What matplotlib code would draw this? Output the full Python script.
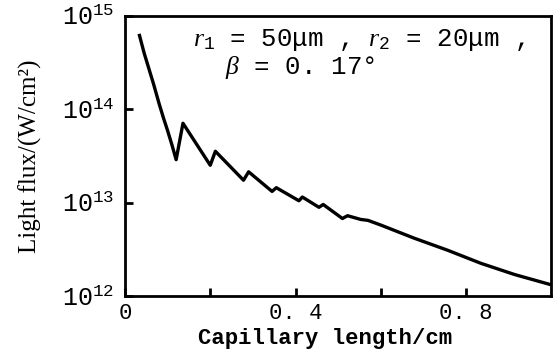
import numpy as np
import matplotlib
matplotlib.use('Agg')
import matplotlib.pyplot as plt

plt.rcParams['font.family'] = ['Liberation Serif', 'DejaVu Serif']
plt.rcParams['mathtext.fontset'] = 'custom'
plt.rcParams['mathtext.rm'] = 'Liberation Mono'
plt.rcParams['mathtext.it'] = 'Liberation Serif:italic'
plt.rcParams['mathtext.bf'] = 'Liberation Mono:bold'

# capillary length (cm) and light flux (W/cm^2)
length = [0.034, 0.045, 0.057, 0.067, 0.08, 0.09, 0.10, 0.11, 0.12, 0.136, 0.20, 0.212,
          0.278, 0.29, 0.345, 0.355, 0.408, 0.416, 0.455, 0.465, 0.51, 0.522, 0.553,
          0.57, 0.60, 0.678, 0.757, 0.835, 0.914, 1.0]
log_flux = [14.79, 14.60, 14.42, 14.27, 14.06, 13.91, 13.77, 13.62, 13.46, 13.85, 13.40, 13.55,
            13.24, 13.33, 13.12, 13.16, 13.02, 13.06, 12.95, 12.98, 12.83, 12.86, 12.82,
            12.81, 12.76, 12.62, 12.49, 12.35, 12.23, 12.12]
flux = 10 ** np.array(log_flux)

xticks = [0, 0.2, 0.4, 0.6, 0.8]
xticklabels = ['0', '', '0. 4', '', '0. 8']
yticks = [1e12, 1e13, 1e14, 1e15]
yticklabels = [r'$10^{12}$', r'$10^{13}$', r'$10^{14}$', r'$10^{15}$']

mono = ['Liberation Mono', 'DejaVu Sans Mono']

fig = plt.figure(figsize=(5.58, 3.52), dpi=100)
ax = fig.add_axes([0.224, 0.159, 0.764, 0.796])
ax.plot(length, flux, '-k', lw=2.4, solid_joinstyle='round')
ax.set_yscale('log')
ax.set_xlim(0, 1.0)
ax.set_ylim(1e12, 1e15)

ax.set_xticks(xticks)
ax.set_xticklabels(xticklabels, family=mono, fontsize=16)
ax.set_yticks(yticks)
ax.set_yticklabels(yticklabels, fontsize=18)
ax.yaxis.set_minor_locator(matplotlib.ticker.NullLocator())
ax.tick_params(direction='in', length=6, width=2, pad=8)
ax.tick_params(axis='x', pad=5)

for s in ax.spines.values():
    s.set_linewidth(2)

ax.set_ylabel('Light flux/(W/cm²)', fontsize=18)
ax.yaxis.set_label_coords(-0.195, 0.5)
ax.set_xlabel('Capillary length/cm', family=mono, fontsize=16, fontweight='bold')
ax.xaxis.set_label_coords(0.47, -0.115)

ax.text(0.16, 0.912, r'$r_1$ = 50μm , $r_2$ = 20μm ,', transform=ax.transAxes,
        family=mono, fontsize=18.5, va='center')
ax.text(0.235, 0.815, r'$\beta$ = 0. 17°', transform=ax.transAxes,
        family=mono, fontsize=18.5, va='center')

fig.savefig('out.png', dpi=100)
